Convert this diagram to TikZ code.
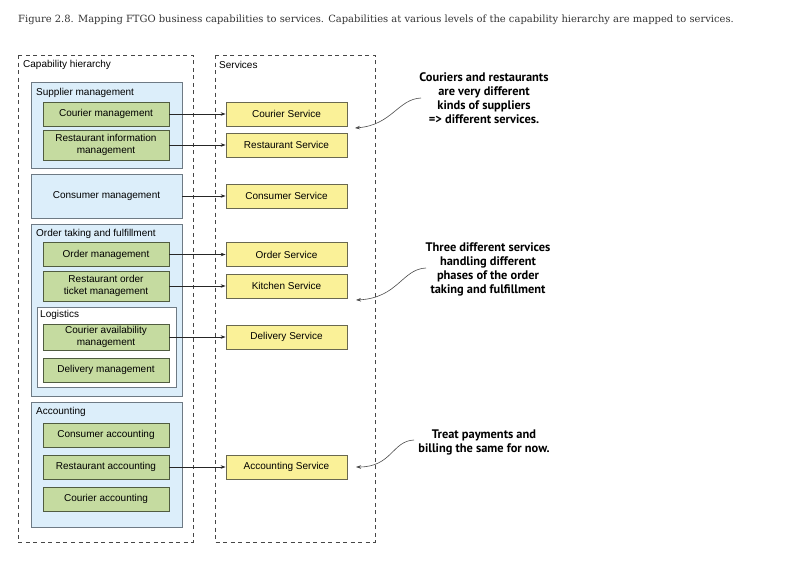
\documentclass[tikz,border=0pt]{standalone}
\usepackage{fontspec}
\setmainfont{Liberation Sans}
\newfontfamily\capfont{DejaVu Serif}
\newfontfamily\notefont{PT Sans}
\usetikzlibrary{arrows.meta}
\definecolor{grpfill}{RGB}{220,238,250}
\definecolor{grpdraw}{RGB}{110,122,132}
\definecolor{capfill}{RGB}{197,219,160}
\definecolor{capdraw}{RGB}{80,92,64}
\definecolor{svcfill}{RGB}{250,241,152}
\definecolor{svcdraw}{RGB}{105,104,80}
\definecolor{dashc}{RGB}{70,70,70}
\begin{document}
\begin{tikzpicture}[x=1pt,y=-1pt,
  outerbox/.style={draw=dashc,line width=0.8pt,dash pattern=on 4pt off 3.5pt},
  grpbox/.style={draw=grpdraw,fill=grpfill,line width=0.8pt,minimum width=151pt,inner sep=0pt},
  capbox/.style={draw=capdraw,fill=capfill,line width=0.8pt,minimum width=126pt,minimum height=24pt,inner sep=1pt,align=center,font=\fontsize{10}{12.5}\selectfont},
  svcbox/.style={draw=svcdraw,fill=svcfill,line width=0.8pt,minimum width=121pt,minimum height=24pt,inner sep=1pt,font=\fontsize{10}{12.5}\selectfont},
  lbl/.style={anchor=west,inner sep=0pt,font=\fontsize{10}{12}\selectfont},
  conn/.style={draw=black!85,line width=0.6pt,-{Stealth[length=5pt,width=3.5pt]}},
  note/.style={align=center,font=\notefont\bfseries\fontsize{12.4}{14}\selectfont},
  noteline/.style={draw=black!70,line width=0.6pt,-{Stealth[length=5pt,width=3.5pt]}}]
\useasboundingbox[fill=white] (0,0) rectangle (807,562);

% caption
\node[anchor=west,inner sep=0pt,font=\capfont\fontsize{9.95}{12}\selectfont,text=black!80] (caption) at (18,20)
  {Figure 2.8. Mapping FTGO business capabilities to services. Capabilities at various levels of the capability hierarchy are mapped to services.};

% outer dashed boxes
\draw[outerbox] (18,55) rectangle (193,542);
\draw[outerbox] (215,55) rectangle (375,542);
\node[lbl] (caphier) at (23,65) {Capability hierarchy};
\node[lbl] (svclbl) at (219,65) {Services};

% group boxes
\node[grpbox,minimum height=86pt] (supg) at (106.5,125) {};
\node[grpbox,minimum height=44pt,font=\fontsize{10}{12}\selectfont] (conm) at (106.5,196) {Consumer management};
\node[grpbox,minimum height=172pt] (ordg) at (106.5,310) {};
\node[draw=grpdraw,fill=white,line width=0.8pt,minimum width=139pt,minimum height=80pt,inner sep=0pt] (logg) at (106.5,347) {};
\node[grpbox,minimum height=125pt] (accg) at (106.5,464.5) {};

\node[lbl] (supl) at (36,93) {Supplier management};
\node[lbl] (ordl) at (36,234) {Order taking and fulfillment};
\node[lbl] (logl) at (40,315) {Logistics};
\node[lbl] (accl) at (36,412) {Accounting};

% capability boxes
\node[capbox] (courm) at (106,114) {Courier management};
\node[capbox,minimum height=30pt] (resti) at (106,145) {Restaurant information\\management};
\node[capbox] (orderm) at (106,254.5) {Order management};
\node[capbox,minimum height=30pt] (rotm) at (106,286) {Restaurant order\\ticket management};
\node[capbox,minimum height=26pt] (cavm) at (106,337) {Courier availability\\management};
\node[capbox] (delm) at (106,370) {Delivery management};
\node[capbox] (conacc) at (106,435) {Consumer accounting};
\node[capbox] (resacc) at (106,467) {Restaurant accounting};
\node[capbox] (couacc) at (106,499) {Courier accounting};

% services
\node[svcbox] (cours) at (286.5,114) {Courier Service};
\node[svcbox] (rests) at (286.5,145) {Restaurant Service};
\node[svcbox] (cons) at (286.5,196) {Consumer Service};
\node[svcbox] (ords) at (286.5,254.5) {Order Service};
\node[svcbox] (kits) at (286.5,286) {Kitchen Service};
\node[svcbox] (dels) at (286.5,337) {Delivery Service};
\node[svcbox] (accs) at (286.5,467) {Accounting Service};

% connectors
\draw[conn] (courm.east) -- (cours.west);
\draw[conn] (resti.east) -- (rests.west);
\draw[conn] (conm.east) -- (cons.west);
\draw[conn] (orderm.east) -- (ords.west);
\draw[conn] (rotm.east) -- (kits.west);
\draw[conn] (cavm.east) -- (dels.west);
\draw[conn] (resacc.east) -- (accs.west);

% notes
\node[note] (n1) at (484,98) {Couriers and restaurants\\are very different\\kinds of suppliers\\=> different services.};
\node[note] (n2) at (488,269) {Three different services\\handling different\\phases of the order\\taking and fulfillment};
\node[note] (n3) at (484,442) {Treat payments and\\billing the same for now.};

\coordinate (t1) at (355,128);
\coordinate (t2) at (356,300);
\coordinate (t3) at (356,467);
\coordinate (s1) at (421,98);
\coordinate (s2) at (426,268);
\coordinate (s3) at (414,440);
\draw[noteline] (s1) .. controls (398,99) and (392,125) .. (t1);
\draw[noteline] (s2) .. controls (402,269) and (398,298) .. (t2);
\draw[noteline] (s3) .. controls (392,441) and (392,467) .. (t3);
\end{tikzpicture}
\end{document}
